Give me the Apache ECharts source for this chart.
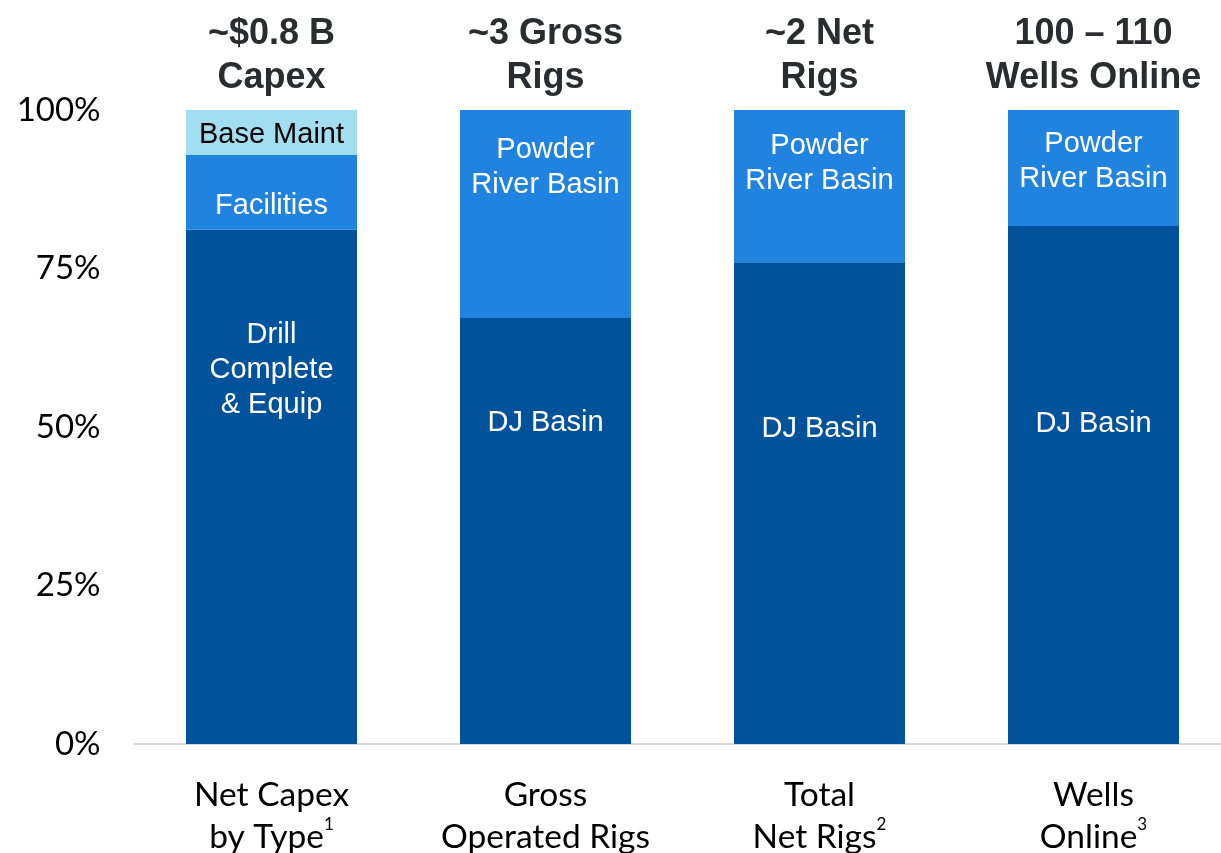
<!DOCTYPE html>
<html>
<head>
<meta charset="utf-8">
<script src="https://cdn.jsdelivr.net/npm/echarts@6/dist/echarts.min.js"></script>
<style>html,body{margin:0;padding:0;background:#fff}#c{width:1221px;height:853px}</style>
</head>
<body>
<div id="c"></div>
<script>
// ---- data ----
var categoryLine1 = ['Net Capex', 'Gross', 'Total', 'Wells'];
var categoryLine2 = ['by Type', 'Operated Rigs', 'Net Rigs', 'Online'];
var footnotes = ['1', '', '2', '3'];
var headerLine1 = ['~$0.8 B', '~3 Gross', '~2 Net', '100 \u2013 110'];
var headerLine2 = ['Capex', 'Rigs', 'Rigs', 'Wells Online'];
var bottomValues = [81.1, 67.2, 76.0, 81.7];
var middleValues = [11.8, 32.8, 24.0, 18.3];
var topValues = [7.1, null, null, null];
var bottomNames = ['Drill\nComplete\n& Equip', 'DJ Basin', 'DJ Basin', 'DJ Basin'];
var middleNames = ['Facilities', 'Powder\nRiver Basin', 'Powder\nRiver Basin', 'Powder\nRiver Basin'];
var topNames = ['Base Maint', '', '', ''];
var yTicks = [0, 25, 50, 75, 100];

// ---- layout / style ----
var bottomLabelDist = [88, 88, 149, 180];
var middleLabelDist = [33, 22, 18, 16];
var C_DARK = '#00529B', C_MID = '#1F83DF', C_LIGHT = '#A3DDF0';

var categories = categoryLine1.map(function (_, i) { return i; });

function segData(values, names, dists) {
  return values.map(function (v, i) {
    var d = { value: v, name: names[i] };
    if (dists) d.label = { distance: dists[i] };
    return d;
  });
}

var chart = echarts.init(document.getElementById('c'), null, { renderer: 'canvas' });
var labelBase = {
  show: true, color: '#fff', fontFamily: 'Liberation Sans, Arial', fontSize: 29, lineHeight: 35,
  formatter: function (p) { return p.data.name; }
};
chart.setOption({
  animation: false,
  grid: { left: 134.5, width: 1096, top: 110, bottom: 109, containLabel: false, outerBoundsMode: 'none' },
  xAxis: [{
    type: 'category', data: categories, position: 'bottom',
    axisLine: { lineStyle: { color: '#D9D9D9', width: 2 } },
    axisTick: { show: false },
    axisLabel: {
      margin: 30, interval: 0,
      formatter: function (v, i) {
        var fn = footnotes[i] ? '{sup|' + footnotes[i] + '}' : '';
        return '{a|' + categoryLine1[i] + '}\n{a|' + categoryLine2[i] + '}' + fn;
      },
      rich: {
        a: { fontFamily: 'Lato', fontSize: 33.5, lineHeight: 42, color: '#000' },
        sup: { fontFamily: 'Lato', fontSize: 17, lineHeight: 24, verticalAlign: 'top', color: '#000' }
      }
    }
  }, {
    type: 'category', data: categories, position: 'top',
    axisLine: { show: false }, axisTick: { show: false },
    axisLabel: {
      margin: 10, interval: 0,
      fontFamily: 'Liberation Sans, Arial', fontWeight: 'bold', fontSize: 36, lineHeight: 44, color: '#2B2C30',
      formatter: function (v, i) { return headerLine1[i] + '\n' + headerLine2[i]; }
    }
  }],
  yAxis: {
    type: 'value', min: 0, max: 100, interval: 25,
    axisLine: { show: false }, axisTick: { show: false }, splitLine: { show: false },
    axisLabel: {
      margin: 34, fontFamily: 'Lato', fontSize: 33, color: '#000',
      formatter: function (v) { return yTicks.indexOf(v) >= 0 ? v + '%' : ''; }
    }
  },
  series: [{
    type: 'bar', stack: 's', barWidth: 171, data: segData(bottomValues, bottomNames, bottomLabelDist),
    itemStyle: { color: C_DARK },
    label: Object.assign({}, labelBase, { position: 'insideTop' })
  }, {
    type: 'bar', stack: 's', barWidth: 171, data: segData(middleValues, middleNames, middleLabelDist),
    itemStyle: { color: C_MID },
    label: Object.assign({}, labelBase, { position: 'insideTop' })
  }, {
    type: 'bar', stack: 's', barWidth: 171, data: segData(topValues, topNames, null),
    itemStyle: { color: C_LIGHT },
    label: Object.assign({}, labelBase, { position: 'inside', color: '#000', offset: [0, 2] })
  }]
});
</script>
</body>
</html>
